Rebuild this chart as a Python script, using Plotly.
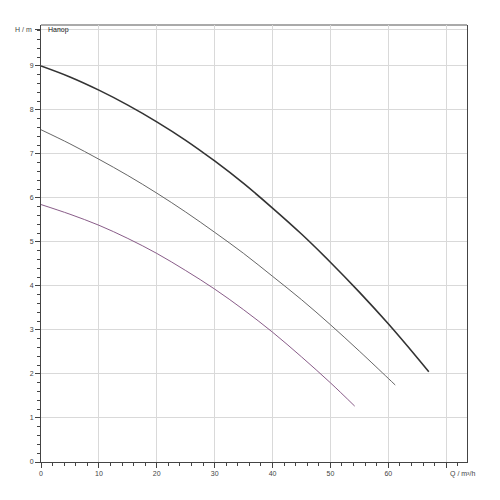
import plotly.graph_objects as go

q_top = [0, 5, 10, 15, 20, 25, 30, 35, 40, 45, 50, 55, 60, 65, 67]
h_top = [9.00, 8.75, 8.45, 8.11, 7.73, 7.31, 6.84, 6.33, 5.77, 5.18, 4.54, 3.86, 3.14, 2.37, 2.05]

q_mid = [0, 5, 10, 15, 20, 25, 30, 35, 40, 45, 50, 55, 60, 61.2]
h_mid = [7.55, 7.23, 6.88, 6.51, 6.11, 5.68, 5.22, 4.74, 4.22, 3.69, 3.12, 2.52, 1.90, 1.75]

q_low = [0, 5, 10, 15, 20, 25, 30, 35, 40, 45, 50, 54.2]
h_low = [5.85, 5.63, 5.38, 5.08, 4.74, 4.35, 3.93, 3.46, 2.95, 2.39, 1.80, 1.27]

x_ticks = [0, 10, 20, 30, 40, 50, 60]
y_ticks = [0, 1, 2, 3, 4, 5, 6, 7, 8, 9]

fig = go.Figure()
fig.add_trace(go.Scatter(x=q_top, y=h_top, mode="lines", line=dict(color="#333333", width=1.6, shape="spline"), showlegend=False))
fig.add_trace(go.Scatter(x=q_mid, y=h_mid, mode="lines", line=dict(color="#555555", width=0.9, shape="spline"), showlegend=False))
fig.add_trace(go.Scatter(x=q_low, y=h_low, mode="lines", line=dict(color="#7a4a7a", width=0.9, shape="spline"), showlegend=False))

fig.update_layout(
    width=500, height=500,
    margin=dict(l=33, r=41, t=17, b=46, autoexpand=False),
    plot_bgcolor="white", paper_bgcolor="white",
    font=dict(family="Liberation Sans", size=7, color="#444444"),
    shapes=[dict(type="line", xref="paper", yref="paper", x0=0, y0=1, x1=1, y1=1,
                 line=dict(color="#aaaaaa", width=2), layer="below")],
)
fig.update_xaxes(range=[0, 73.6], tickvals=x_ticks + [70], ticktext=[str(v) for v in x_ticks] + [""],
                 automargin=False,
                 showgrid=True, gridcolor="#d9d9d9", gridwidth=1, zeroline=False,
                 showline=True, linecolor="#444444", linewidth=1,
                 ticks="outside", ticklen=5, tickcolor="#444444",
                 minor=dict(dtick=2, ticks="outside", ticklen=3, tickcolor="#444444", showgrid=False))
fig.update_yaxes(range=[0, 9.93], tickvals=y_ticks + [9.82], ticktext=[str(v) for v in y_ticks] + [""],
                 automargin=False,
                 showgrid=True, gridcolor="#d9d9d9", gridwidth=1, zeroline=False,
                 showline=True, linecolor="#444444", linewidth=1, mirror=True,
                 ticks="outside", ticklen=5, tickcolor="#444444",
                 minor=dict(dtick=0.2, ticks="outside", ticklen=3, tickcolor="#444444", showgrid=False))

fig.add_annotation(xref="paper", yref="y", x=0, y=9.82, text="H / m", showarrow=False,
                   xanchor="right", yanchor="middle", xshift=-7, font=dict(size=7))
fig.add_annotation(xref="paper", yref="y", x=0, y=9.82, text="Напор", showarrow=False,
                   xanchor="left", yanchor="middle", xshift=5, font=dict(size=7, color="#222222"))
fig.add_annotation(xref="x", yref="paper", x=70, y=0, text="Q / m³/h", showarrow=False,
                   xanchor="left", yanchor="top", xshift=2, yshift=-6, font=dict(size=7))

fig.write_html("out.html")
